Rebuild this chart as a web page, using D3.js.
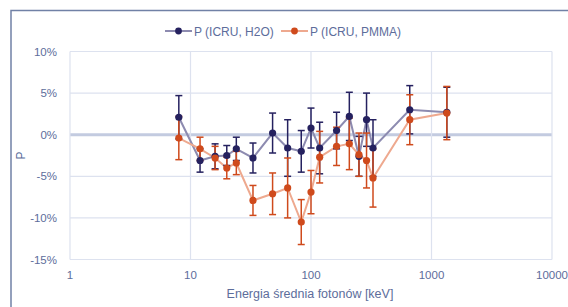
<!DOCTYPE html>
<html>
<head>
<meta charset="utf-8">
<script src="https://cdn.jsdelivr.net/npm/d3@7"></script>
<style>
  body { margin: 0; background: #fff; }
  text { font-family: "Liberation Sans", Arial, sans-serif; }
</style>
</head>
<body>
<div id="chart"></div>
<script>
// energies [keV] and P values [%]
const energy = [8, 12, 16, 20, 24, 33, 48, 64, 83, 100, 118, 163, 208, 250, 289, 327, 660, 1340];
const pH2O   = [2.1, -3.1, -2.6, -2.5, -1.7, -2.8, 0.2, -1.6, -2.0, 0.8, -1.6, 0.5, 2.2, -2.6, 1.8, -1.6, 3.0, 2.7];
const errH2O = [2.6, 1.4, 1.5, 1.2, 1.4, 1.8, 2.4, 3.4, 2.5, 2.4, 3.1, 2.2, 2.9, 2.4, 3.2, 3.4, 2.9, 3.0];
const pPMMA  = [-0.4, -1.7, -2.8, -4.0, -3.4, -7.9, -7.1, -6.4, -10.5, -6.9, -2.7, -1.4, -1.1, -2.4, -3.1, -5.2, 1.8, 2.6];
const errPMMA = [2.6, 1.4, 1.4, 1.3, 1.4, 1.8, 2.5, 3.6, 2.7, 2.6, 3.1, 2.3, 3.1, 2.6, 3.3, 3.5, 3.0, 3.2];
const xTicks = [1, 10, 100, 1000, 10000];
const yTicks = [10, 5, 0, -5, -10, -15];

const series = [
  { name: "P (ICRU, H2O)", values: pH2O, err: errH2O, color: "#25215f", line: "#8d8bb0" },
  { name: "P (ICRU, PMMA)", values: pPMMA, err: errPMMA, color: "#cf4a1c", line: "#eea98f" }
];

const width = 568, height = 307;
const textColor = "#5d6d9b";

const svg = d3.select("#chart").append("svg")
  .attr("width", width).attr("height", height);

// chart frame
svg.append("rect")
  .attr("x", 11).attr("y", 10.5)
  .attr("width", 600).attr("height", 320)
  .attr("fill", "none").attr("stroke", "#7181a6").attr("stroke-width", 1.5);

const x = d3.scaleLog().domain([1, 10000]).range([70, 552]);
const y = d3.scaleLinear().domain([-15, 10]).range([259.5, 51.5]);

// grid
svg.append("g").selectAll("line").data(yTicks).join("line")
  .attr("x1", x(1)).attr("x2", x(10000))
  .attr("y1", d => y(d)).attr("y2", d => y(d))
  .attr("stroke", d => d === 0 ? "#c3cbe0" : "#dde2ef")
  .attr("stroke-width", d => d === 0 ? 3 : 1.2);

svg.append("g").selectAll("line").data(xTicks).join("line")
  .attr("x1", d => x(d)).attr("x2", d => x(d))
  .attr("y1", y(10)).attr("y2", y(-15))
  .attr("stroke", "#dde2ef").attr("stroke-width", 1.2);

// tick labels
svg.append("g").selectAll("text").data(yTicks).join("text")
  .attr("x", 57).attr("y", d => y(d) + 4)
  .attr("text-anchor", "end")
  .attr("font-size", 11.5).attr("fill", textColor)
  .text(d => d + "%");

svg.append("g").selectAll("text").data(xTicks).join("text")
  .attr("x", d => x(d)).attr("y", 279)
  .attr("text-anchor", "middle")
  .attr("font-size", 11.5).attr("fill", textColor)
  .text(d => d);

// axis titles
svg.append("text")
  .attr("x", 310).attr("y", 298)
  .attr("text-anchor", "middle")
  .attr("font-size", 12.5).attr("fill", textColor)
  .text("Energia średnia fotonów [keV]");

svg.append("text")
  .attr("transform", `translate(25,${y(-2.5)}) rotate(-90)`)
  .attr("text-anchor", "middle")
  .attr("font-size", 12).attr("fill", textColor)
  .text("P");

// series
const line = d3.line().x(d => x(d.e)).y(d => y(d.p));
const pts = series.map(s => energy.map((e, i) => ({ e: e, p: s.values[i], err: s.err[i] })));

const lineLayer = svg.append("g");
const barLayer = svg.append("g");
const dotLayer = svg.append("g");

function errorBars(g, data, color) {
  const eb = g.append("g").selectAll("g").data(data).join("g")
    .attr("stroke", color).attr("stroke-width", 1.5);
  eb.append("line")
    .attr("x1", d => x(d.e)).attr("x2", d => x(d.e))
    .attr("y1", d => y(d.p + d.err)).attr("y2", d => y(d.p - d.err));
  eb.append("line")
    .attr("x1", d => x(d.e) - 3.5).attr("x2", d => x(d.e) + 3.5)
    .attr("y1", d => y(d.p + d.err)).attr("y2", d => y(d.p + d.err));
  eb.append("line")
    .attr("x1", d => x(d.e) - 3.5).attr("x2", d => x(d.e) + 3.5)
    .attr("y1", d => y(d.p - d.err)).attr("y2", d => y(d.p - d.err));
}

function markers(g, data, color) {
  g.append("g").selectAll("circle").data(data).join("circle")
    .attr("cx", d => x(d.e)).attr("cy", d => y(d.p))
    .attr("r", 3.6).attr("fill", color);
}

series.forEach((s, i) => {
  lineLayer.append("path").datum(pts[i])
    .attr("d", line)
    .attr("fill", "none").attr("stroke", s.line).attr("stroke-width", 2);
  errorBars(barLayer, pts[i], s.color);
  markers(dotLayer, pts[i], s.color);
});

// legend
const legendX = [165, 281];
const lg = svg.append("g").selectAll("g").data(series).join("g")
  .attr("transform", (d, i) => `translate(${legendX[i]},31)`);
lg.append("line")
  .attr("x1", 0).attr("x2", 27)
  .attr("stroke", d => d.line).attr("stroke-width", 2);
lg.append("circle")
  .attr("cx", 13.5).attr("r", 3.4).attr("fill", d => d.color);
lg.append("text")
  .attr("x", 29).attr("y", 4.5)
  .attr("font-size", 12).attr("fill", textColor)
  .text(d => d.name);
</script>
</body>
</html>
